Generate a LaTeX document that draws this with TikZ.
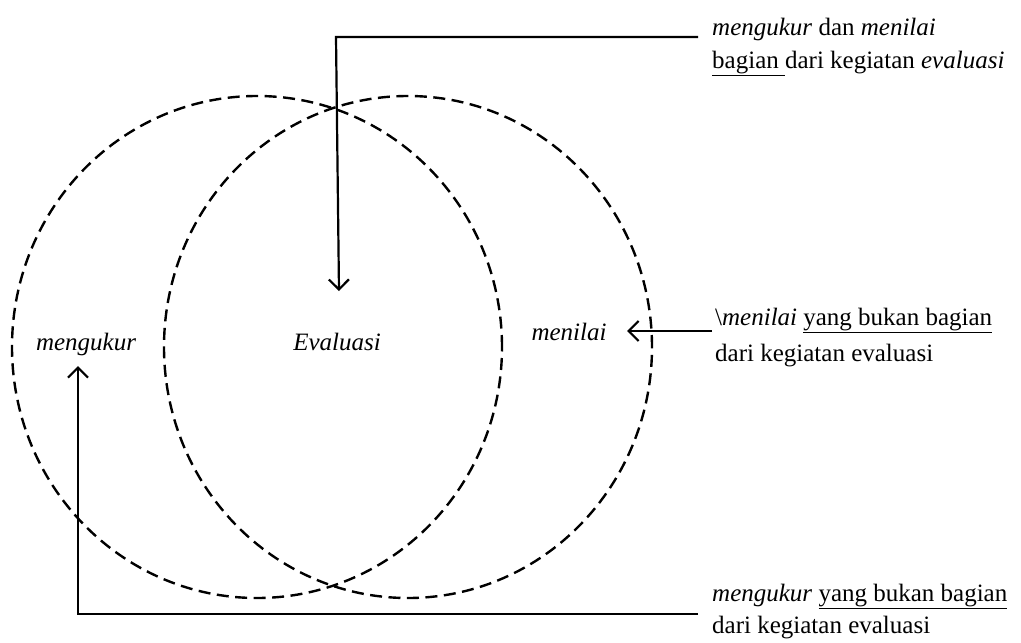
\documentclass[tikz,border=0pt]{standalone}
\usepackage{fontspec}
\setmainfont{Liberation Serif}
\usetikzlibrary{arrows.meta}
\tikzset{
  venn/.style={line width=2.4pt, dash pattern=on 12pt off 6.5pt},
  conn/.style={line width=2.2pt},
  arr/.style={conn, -{Straight Barb[length=10pt,width=20pt,line width=2.2pt]}},
  lbl/.style={font=\fontsize{25}{30}\selectfont, inner sep=0pt, anchor=base west},
  inlbl/.style={font=\fontsize{25}{30}\selectfont\itshape, inner sep=0pt, anchor=base}
}
\begin{document}
\begin{tikzpicture}[x=1pt,y=-1pt]
\useasboundingbox (0,0) rectangle (1021,643);
% circles
\draw[venn] (257,347) ellipse [x radius=245pt, y radius=251pt];
\draw[venn] (408,347) ellipse [x radius=244pt, y radius=251pt];
% inner labels
\node[inlbl] (mengukur) at (86,350) {mengukur};
\node[inlbl] (evaluasi) at (337,350) {Evaluasi};
\node[inlbl] (menilai) at (569,340) {menilai};
% right labels
\node[lbl] (top1) at (712,35) {\textit{mengukur} dan \textit{menilai}};
\node[lbl] (top2) at (712,68) {\underline{bagian\ }dari kegiatan \textit{evaluasi}};
\node[lbl] (mid1) at (715,325) {\textbackslash\textit{menilai} \underline{yang bukan bagian}};
\node[lbl] (mid2) at (715,361) {dari kegiatan evaluasi};
\node[lbl] (bot1) at (712,601) {\textit{mengukur} \underline{yang bukan bagian}};
\node[lbl] (bot2) at (712,633) {dari kegiatan evaluasi};
% connector points
\coordinate (ts) at (698,37);
\coordinate (tc) at (336,37);
\coordinate (te) at (339,291);
\coordinate (ms) at (712,331);
\coordinate (me) at (627,331);
\coordinate (bs) at (698,614);
\coordinate (bc) at (78,614);
\coordinate (be) at (78,366);
% connectors
\draw[arr] (ts) -- (tc) -- (te);
\draw[arr] (ms) -- (me);
\draw[arr] (bs) -- (bc) -- (be);
\end{tikzpicture}
\end{document}
